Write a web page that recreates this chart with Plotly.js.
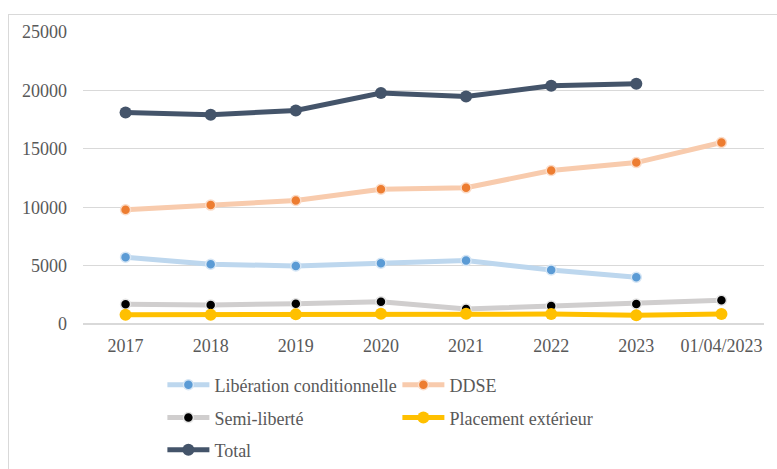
<!DOCTYPE html>
<html>
<head>
<meta charset="utf-8">
<script src="https://cdn.plot.ly/plotly-3.0.1.min.js"></script>
<style>
html,body{margin:0;padding:0;background:#fff;overflow:hidden;}
#chart{width:777px;height:469px;position:absolute;left:0;top:0;}
#frame{position:absolute;left:8px;top:14px;width:800px;height:500px;border:1px solid #D9D9D9;pointer-events:none;}
</style>
</head>
<body>
<div id="chart"></div>
<div id="frame"></div>
<script>
const categories = ["2017","2018","2019","2020","2021","2022","2023","01/04/2023"];
const liberation = [5720, 5120, 4970, 5200, 5430, 4630, 4000, null];
const ddse = [9780, 10180, 10570, 11540, 11660, 13140, 13820, 15540];
const semiLiberte = [1690, 1630, 1740, 1910, 1290, 1540, 1710, 2030];
const placement = [800, 800, 830, 880, 880, 850, 750, 860];
const total = [18100, 17910, 18280, 19770, 19480, 20390, 20570, null];
const yTicks = [0, 5000, 10000, 15000, 20000, 25000];

const serif = "Liberation Serif, Times New Roman, serif";

const traces = [
  {name:"Libération conditionnelle", x:categories, y:liberation, mode:"lines+markers", legend:"legend",
   line:{color:"#BDD7EE", width:5}, marker:{color:"#5B9BD5", size:10, line:{color:"#D6E6F5", width:1.5}}},
  {name:"DDSE", x:categories, y:ddse, mode:"lines+markers", legend:"legend",
   line:{color:"#F8CBAD", width:5}, marker:{color:"#ED7D31", size:10, line:{color:"#FBDCC8", width:1.5}}},
  {name:"Semi-liberté", x:categories, y:semiLiberte, mode:"lines+markers", legend:"legend2",
   line:{color:"#D0CECE", width:5}, marker:{color:"#000000", size:10, line:{color:"#E5E5E5", width:1.5}}},
  {name:"Placement extérieur", x:categories, y:placement, mode:"lines+markers", legend:"legend2",
   line:{color:"#FFC000", width:5}, marker:{color:"#FFC000", size:12}},
  {name:"Total", x:categories, y:total, mode:"lines+markers", legend:"legend3",
   line:{color:"#44546A", width:5}, marker:{color:"#44546A", size:12}}
];

const legendBase = {orientation:"h", xref:"container", yref:"container", xanchor:"left", yanchor:"middle", x:0.209,
  font:{family:serif, size:18, color:"#595959"}, bgcolor:"rgba(0,0,0,0)", itemwidth:42, entrywidth:178, entrywidthmode:"pixels", traceorder:"normal"};

const layout = {
  width:777, height:469,
  margin:{l:83, r:13, t:32, b:144.5},
  paper_bgcolor:"#fff", plot_bgcolor:"#fff",
  font:{family:serif, size:18, color:"#595959"},
  xaxis:{type:"category", range:[-0.5,7.5], showgrid:false, zeroline:false, showline:false,
    ticks:"", ticklabelstandoff:9, tickfont:{family:serif, size:18, color:"#595959"}, fixedrange:true},
  yaxis:{range:[0,25000], tickvals:yTicks, ticktext:yTicks.map(String), showgrid:true, gridcolor:"#D9D9D9", gridwidth:1.3,
    zeroline:true, zerolinecolor:"#D9D9D9", zerolinewidth:1.3, showline:false, ticks:"", ticklabelstandoff:15,
    tickfont:{family:serif, size:18, color:"#595959"}, fixedrange:true},
  showlegend:true,
  legend:Object.assign({}, legendBase, {y:0.179}),
  legend2:Object.assign({}, legendBase, {y:0.109}),
  legend3:Object.assign({}, legendBase, {y:0.0405}),
  hovermode:false
};

Plotly.newPlot("chart", traces, layout, {displayModeBar:false, staticPlot:true});
</script>
</body>
</html>
